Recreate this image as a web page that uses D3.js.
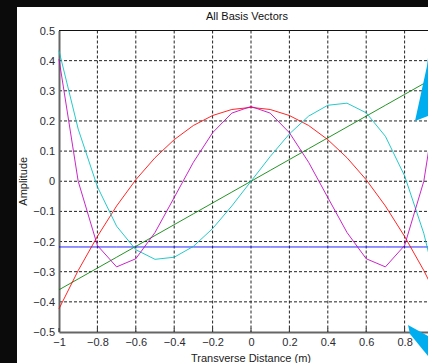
<!DOCTYPE html>
<html>
<head>
<meta charset="utf-8">
<script src="https://cdn.jsdelivr.net/npm/d3@7"></script>
<style>
  body { margin: 0; background: #0b0b0b; }
  svg { display: block; }
  text { font-family: "Liberation Sans", Arial, sans-serif; }
</style>
</head>
<body>
<div id="chart"></div>
<script>
// sample positions along the beam (m)
const xValues = [-1, -0.9, -0.8, -0.7, -0.6, -0.5, -0.4, -0.3, -0.2, -0.1, 0,
                 0.1, 0.2, 0.3, 0.4, 0.5, 0.6, 0.7, 0.8, 0.9, 1];

// basis vectors
const basis0 = [-0.218, -0.218, -0.218, -0.218, -0.218, -0.218, -0.218, -0.218, -0.218, -0.218, -0.218,
                -0.218, -0.218, -0.218, -0.218, -0.218, -0.218, -0.218, -0.218, -0.218, -0.218];
const basis1 = [-0.360, -0.324, -0.288, -0.252, -0.216, -0.180, -0.144, -0.108, -0.072, -0.036, 0,
                0.036, 0.072, 0.108, 0.144, 0.180, 0.216, 0.252, 0.288, 0.324, 0.360];
const basis2 = [-0.423, -0.296, -0.183, -0.082, 0.005, 0.078, 0.138, 0.185, 0.218, 0.238, 0.245,
                0.238, 0.218, 0.185, 0.138, 0.078, 0.005, -0.082, -0.183, -0.296, -0.423];
const basis3 = [0.433, 0.173, -0.018, -0.149, -0.227, -0.259, -0.252, -0.216, -0.157, -0.082, 0,
                0.082, 0.157, 0.216, 0.252, 0.259, 0.227, 0.149, 0.018, -0.173, -0.433];
const basis4 = [0.405, 0.000, -0.213, -0.284, -0.257, -0.170, -0.054, 0.063, 0.161, 0.226, 0.248,
                0.226, 0.161, 0.063, -0.054, -0.170, -0.257, -0.284, -0.213, 0.000, 0.405];

const seriesColors = ["#0000ff", "#008000", "#ff0000", "#00bfbf", "#bf00bf"];
// x = 1 sits past the right edge of the crop, so it is left out
const xTicks = [-1, -0.8, -0.6, -0.4, -0.2, 0, 0.2, 0.4, 0.6, 0.8];
const yTicks = [-0.5, -0.4, -0.3, -0.2, -0.1, 0, 0.1, 0.2, 0.3, 0.4, 0.5];

const W = 428, H = 363;
const svg = d3.select("#chart").append("svg")
    .attr("width", W)
    .attr("height", H);

// dark backdrop
svg.append("rect")
    .attr("width", W).attr("height", H)
    .attr("fill", "#0b0b0b");

// white figure window
svg.append("rect")
    .attr("x", 17).attr("y", 7)
    .attr("width", W - 17).attr("height", H - 7)
    .attr("fill", "#ffffff");

const x = d3.scaleLinear().domain([-1, 1]).range([59, 443]);
const y = d3.scaleLinear().domain([-0.5, 0.5]).range([332, 30.5]);

// grid
const grid = svg.append("g").attr("stroke", "#222").attr("stroke-dasharray", "3,2");
grid.selectAll(".gx")
    .data(xTicks.slice(1))
    .enter().append("line")
    .attr("x1", d => x(d)).attr("x2", d => x(d))
    .attr("y1", y(0.5)).attr("y2", y(-0.5));
grid.selectAll(".gy")
    .data(yTicks.slice(1, -1))
    .enter().append("line")
    .attr("x1", x(-1)).attr("x2", x(1))
    .attr("y1", d => y(d)).attr("y2", d => y(d));

// axes
const xAxis = svg.append("g")
    .attr("transform", `translate(0,${y(-0.5)})`)
    .call(d3.axisBottom(x).tickValues(xTicks).tickSize(0).tickPadding(6).tickFormat(d3.format("")));
const yAxis = svg.append("g")
    .attr("transform", `translate(${x(-1)},0)`)
    .call(d3.axisLeft(y).tickValues(yTicks).tickSize(0).tickPadding(4).tickFormat(d3.format("")));
[xAxis, yAxis].forEach(a => {
    a.select(".domain").attr("stroke", "#666").attr("stroke-width", 2);
    a.selectAll("text")
        .attr("font-size", 11)
        .attr("fill", "#2b2b33")
        .attr("font-family", "'Liberation Sans', Arial, sans-serif");
});

// top frame line
svg.append("line")
    .attr("x1", x(-1)).attr("x2", x(1))
    .attr("y1", y(0.5)).attr("y2", y(0.5))
    .attr("stroke", "#111");

// inward tick marks along the bottom
const tickMarks = svg.append("g").attr("stroke", "#333");
tickMarks.selectAll(".tb")
    .data(xTicks)
    .enter().append("line")
    .attr("x1", d => x(d)).attr("x2", d => x(d))
    .attr("y1", y(-0.5)).attr("y2", y(-0.5) - 4);

// basis vector lines
const line = d3.line()
    .x((d, i) => x(xValues[i]))
    .y(d => y(d));

[basis0, basis1, basis2, basis3, basis4].forEach((s, k) => {
    svg.append("path")
        .datum(s)
        .attr("d", line)
        .attr("fill", "none")
        .attr("stroke", seriesColors[k])
        .attr("stroke-width", 1)
        .attr("opacity", 0.85);
});

// labels
svg.append("text")
    .attr("x", 247).attr("y", 20)
    .attr("text-anchor", "middle")
    .attr("font-size", 11)
    .attr("fill", "#111")
    .text("All Basis Vectors");

svg.append("text")
    .attr("x", 251).attr("y", 362)
    .attr("text-anchor", "middle")
    .attr("font-size", 11)
    .attr("fill", "#222")
    .text("Transverse Distance (m)");

svg.append("text")
    .attr("transform", `translate(27,${y(0)}) rotate(-90)`)
    .attr("text-anchor", "middle")
    .attr("font-size", 11)
    .attr("fill", "#222")
    .text("Amplitude");

// blue arrow pieces poking in from the right
svg.append("polygon")
    .attr("points", "415,121 427,66 428,58 428,116")
    .attr("fill", "#00aeef");
svg.append("polygon")
    .attr("points", "408,325 428,336 428,356 410,334")
    .attr("fill", "#00aeef");
</script>
</body>
</html>
